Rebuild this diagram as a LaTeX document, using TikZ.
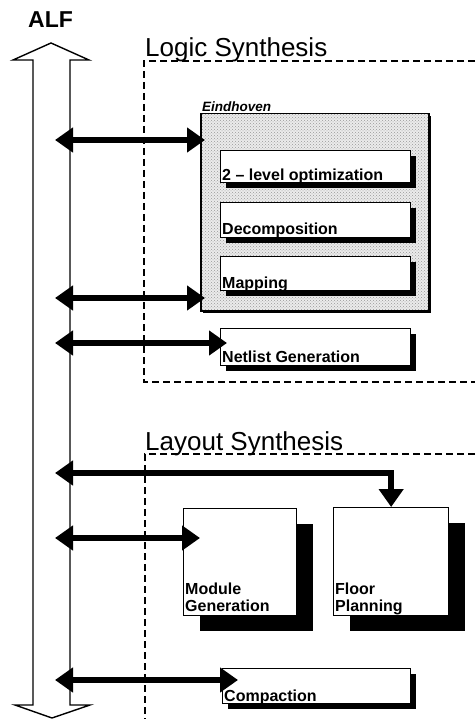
\documentclass[tikz,border=0pt]{standalone}
\usepackage{fontspec}
\setmainfont{Liberation Sans}
\usetikzlibrary{arrows.meta,patterns,calc,shadows}
\begin{document}
\begin{tikzpicture}[x=1pt,y=-1pt,
  dbl/.style={line width=6pt, line join=miter,
    {Triangle[length=18pt,width=24pt]}-{Triangle[length=18pt,width=24pt]}},
  frame/.style={line width=1.3pt, dash pattern=on 7pt off 4pt},
  title/.style={font=\fontsize{26}{26}\selectfont, anchor=base west, inner sep=0pt},
  pbox/.style={draw, line width=1.3pt, fill=white, rectangle, inner sep=0pt, anchor=north west},
  sshadow/.style={drop shadow={shadow xshift=5pt, shadow yshift=-5pt, fill=black, opacity=1}},
  bshadow/.style={drop shadow={shadow xshift=16pt, shadow yshift=-15pt, fill=black, opacity=1}},
  btxt/.style={font=\fontsize{16}{17}\bfseries, anchor=base west, inner sep=0pt, align=left},
]
\useasboundingbox (0,0) rectangle (475,719);

% ALF hollow double arrow
\draw[line width=1.4pt, fill=white, line join=miter]
  (33,60) -- (13,60) -- (51,43) -- (89,60) -- (70,60) -- (70,705)
  -- (90,705) -- (52,718) -- (15,705) -- (33,705) -- cycle;
\node[font=\fontsize{23}{23}\bfseries, anchor=base west, inner sep=0pt] (alf) at (28,28) {ALF};

% Logic synthesis frame
\draw[frame] (475,61) -- (144,61) -- (144,382) -- (475,382);
\node[title] (ls) at (145,57) {Logic Synthesis};

% Layout synthesis frame
\draw[frame] (475,454) -- (145,454) -- (145,719);
\node[title] (lys) at (145,450) {Layout Synthesis};

% Eindhoven box
\node[drop shadow={shadow xshift=2.5pt, shadow yshift=-2.5pt, fill=black, opacity=1},
      draw, line width=1.5pt, rectangle, inner sep=0pt, anchor=north west,
      minimum width=228pt, minimum height=197pt,
      preaction={fill=black!8}, pattern=crosshatch dots, pattern color=black!40]
      (eind) at (200,113) {};
\node[font=\fontsize{13.5}{13.5}\bfseries\itshape, anchor=base west, inner sep=0pt] (eindl) at (202,112) {Eindhoven};

\node[pbox, sshadow, minimum width=190pt, minimum height=32pt] (lvl) at (220,150) {};
\node[btxt] (lvlt) at ($(lvl.south west)+(2,-3)$) {2 – level optimization};
\node[pbox, sshadow, minimum width=190pt, minimum height=35pt] (dec) at (220,202) {};
\node[btxt] (dect) at ($(dec.south west)+(2,-4)$) {Decomposition};
\node[pbox, sshadow, minimum width=190pt, minimum height=34pt] (map) at (220,256) {};
\node[btxt] (mapt) at ($(map.south west)+(2,-3)$) {Mapping};

\node[pbox, sshadow, minimum width=190pt, minimum height=37pt] (net) at (220,328) {};
\node[btxt] (nett) at ($(net.south west)+(2,-4)$) {Netlist Generation};

% Layout boxes
\node[pbox, bshadow, minimum width=113pt, minimum height=107pt] (mod) at (183,508) {};
\node[btxt] (modt) at ($(mod.south west)+(2,-5)$) {Module\\Generation};
\node[pbox, bshadow, minimum width=115pt, minimum height=108pt] (flo) at (333,507) {};
\node[btxt] (flot) at ($(flo.south west)+(2,-5)$) {Floor\\Planning};
\node[pbox, sshadow, minimum width=188pt, minimum height=35pt] (comp) at (222,668) {};
\node[btxt] (compt) at ($(comp.south west)+(2,-3)$) {Compaction};

% connector start points on the ALF bus
\coordinate (a1) at (55,140);
\coordinate (a2) at (55,298);
\coordinate (a3) at (55,343);
\coordinate (a4) at (55,473);
\coordinate (a5) at (55,538);
\coordinate (a6) at (55,680);

\draw[dbl, shorten >=-5pt] (a1) -- (a1 -| eind.west);
\draw[dbl, shorten >=-5pt] (a2) -- (a2 -| eind.west);
\draw[dbl, shorten >=-7pt] (a3) -- (a3 -| net.west);
\draw[dbl] (a4) -- (a4 -| flo.north) -- (flo.north);
\draw[dbl, shorten >=-17pt] (a5) -- (a5 -| mod.west);
\draw[dbl, shorten >=-16pt] (a6) -- (a6 -| comp.west);
\end{tikzpicture}
\end{document}
